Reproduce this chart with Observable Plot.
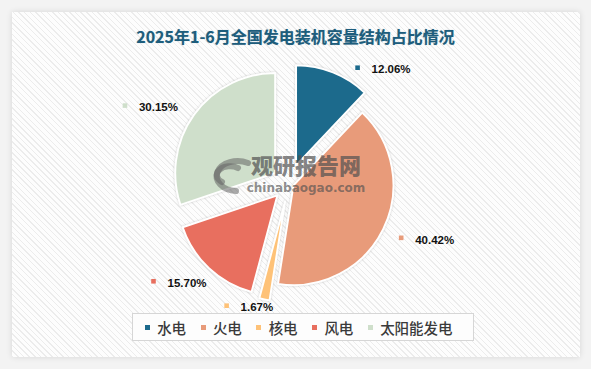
<!DOCTYPE html>
<html><head><meta charset="utf-8">
<script src="https://cdn.jsdelivr.net/npm/d3@7"></script>
<script src="https://cdn.jsdelivr.net/npm/@observablehq/plot@0.6"></script>
<style>
html,body{margin:0;padding:0;background:#fff;}
#frame{position:relative;width:591px;height:369px;overflow:hidden;background:#f3f3f3;}
#panel{position:absolute;left:12px;top:12px;width:568px;height:345px;background-color:#fdfdfd;
 background-image:repeating-linear-gradient(45deg,#ececec 0px,#ececec 1px,#fdfdfd 1px,#fdfdfd 4px);
 box-shadow:0 0 6px rgba(0,0,0,0.12);}
#title{position:absolute;left:0;top:25px;width:591px;text-align:center;font-family:"Noto Sans CJK SC",sans-serif;font-weight:bold;font-size:16px;line-height:22px;color:#1d5d7c;text-shadow:0 0 1px rgba(29,93,124,0.4);}
#chart{position:absolute;left:0;top:0;}
#legend{position:absolute;left:132px;top:313px;width:334px;height:26px;border:1px solid #d6d6d6;background:#fdfdfd;display:flex;justify-content:center;align-items:center;padding-left:6px;box-sizing:content-box;overflow:hidden;}
#legend > *{margin:0 !important;min-height:0 !important;}
#wm{position:absolute;left:0;top:0;pointer-events:none;}
</style>
</head><body>
<div id="frame">
  <div id="panel"></div>
  <div id="title">2025年1-6月全国发电装机容量结构占比情况</div>
  <div id="chart"></div>
  <div id="legend"></div>
  <svg id="wm" width="591" height="369">
    <g fill="none" stroke="rgba(100,100,100,0.55)" stroke-width="6" stroke-linecap="round">
      <path d="M248 163 A21 15 0 1 0 236 191"/>
      <path d="M238 168 A12 8 0 1 0 222 182"/>
    </g>
    <text x="306" y="174" text-anchor="middle" font-family="Noto Sans CJK SC" font-weight="900" font-size="22" fill="rgba(80,80,80,0.7)">观研报告网</text>
    <text x="306" y="192" text-anchor="middle" font-family="DejaVu Sans" font-weight="bold" font-size="12" fill="rgba(80,80,80,0.65)">chinabaogao.com</text>
  </svg>
</div>
<script>
// ---- data ----
const categories = ["水电", "火电", "核电", "风电", "太阳能发电"];
const shares = [12.06, 40.42, 1.67, 15.70, 30.15];
const colors = ["#1c6a8c", "#e89b7a", "#fec278", "#e86f5f", "#cfdfcb"];

// ---- layout ----
const W = 591, H = 369;
const CX = 289, CY = 183;      // pie centre in pixels
const R = 100;                 // pie radius
const LABEL_R = 130;
const explode = [19, 5, 19, 17, 17];
const labelNudge = [[20, 5], [-5, -3], [-36, -5], [-47, 3], [-59, -2]];

const table = categories.map((c, i) => ({name: c, value: shares[i], color: colors[i], i}));
const arcs = d3.pie().sort(null).value(d => d.value)(table);
arcs.forEach(a => {
  const m = (a.startAngle + a.endAngle) / 2;
  a.mid = m;
  const n = labelNudge[a.data.i];
  a.lx = LABEL_R * Math.sin(m) + n[0];
  a.ly = -LABEL_R * Math.cos(m) + n[1];
});

function pieMark(index, scales) {
  const g = d3.create("svg:g");
  const r = scales.x(R) - scales.x(0);
  const arc = d3.arc().innerRadius(0).outerRadius(r);
  for (const a of arcs) {
    const ex = explode[a.data.i];
    const tx = scales.x(ex * Math.sin(a.mid));
    const ty = scales.y(-ex * Math.cos(a.mid));
    g.append("path")
      .attr("d", arc(a))
      .attr("transform", `translate(${tx},${ty})`)
      .attr("fill", a.data.color)
      .attr("stroke", "#ffffff")
      .attr("stroke-width", 2)
      .attr("stroke-linejoin", "round")
      .style("filter", "drop-shadow(0 0 1px rgba(0,0,0,0.18))");
  }
  return g.node();
}

const plot = Plot.plot({
  width: W, height: H,
  margin: 0,
  style: {background: "transparent", overflow: "visible"},
  x: {domain: [-CX, W - CX], range: [0, W], axis: null},
  y: {domain: [-CY, H - CY], range: [0, H], axis: null},
  marks: [
    pieMark,
    Plot.dot(arcs, {x: "lx", y: "ly", symbol: "square", r: 2.6, fill: d => d.data.color, stroke: null}),
    Plot.text(arcs, {x: "lx", y: "ly", text: d => d.data.value.toFixed(2) + "%", dx: 14, dy: 2,
      textAnchor: "start", fontSize: 11.5, fontWeight: "bold", fontFamily: "Liberation Sans", fill: "#111"})
  ]
});
document.getElementById("chart").appendChild(plot);

const leg = Plot.legend({
  color: {type: "ordinal", domain: categories, range: colors},
  legend: "swatches",
  swatchSize: 5,
  style: {fontSize: "14.5px", fontFamily: "Noto Sans CJK SC", fontWeight: "500", color: "#3a3a3a", background: "transparent"}
});
document.getElementById("legend").appendChild(leg);
</script>
</body></html>
